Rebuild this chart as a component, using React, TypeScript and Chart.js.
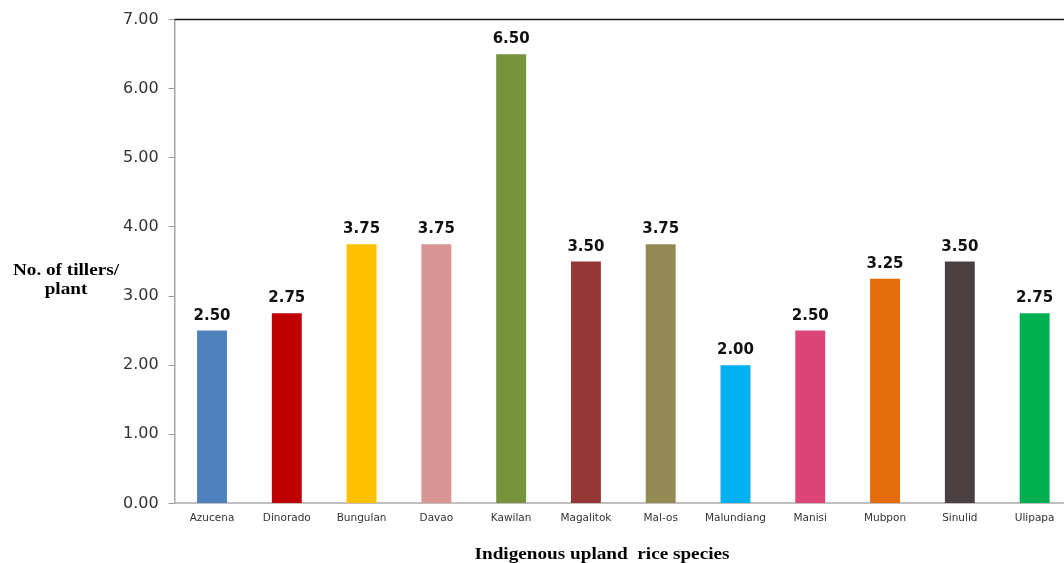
import React, { useEffect, useRef } from "react";
import { Chart, registerables } from "chart.js";

Chart.register(...registerables);

const categories = [
  "Azucena", "Dinorado", "Bungulan", "Davao", "Kawilan", "Magalitok",
  "Mal-os", "Malundiang", "Manisi", "Mubpon", "Sinulid", "Ulipapa",
];
const tillers = [2.5, 2.75, 3.75, 3.75, 6.5, 3.5, 3.75, 2.0, 2.5, 3.25, 3.5, 2.75];
const barColors = [
  "#4F81BD", "#C00000", "#FFC000", "#D99594", "#77933C", "#953735",
  "#938953", "#00B0F0", "#DD4477", "#E46C0A", "#4A3F41", "#00B050",
];
const yTitleLines = ["No. of tillers/", "plant"];
const xTitle = "Indigenous upland  rice species";

const overlayPlugin = {
  id: "overlay",
  afterDatasetsDraw(chart: any) {
    const ctx = chart.ctx;
    const area = chart.chartArea;
    ctx.save();
    // top border line
    ctx.strokeStyle = "#1a1a1a";
    ctx.lineWidth = 1.5;
    ctx.beginPath();
    ctx.moveTo(area.left, area.top);
    ctx.lineTo(area.right, area.top);
    ctx.stroke();
    // value labels
    const meta = chart.getDatasetMeta(0);
    ctx.fillStyle = "#111";
    ctx.font = "bold 15px 'DejaVu Sans'";
    ctx.textAlign = "center";
    ctx.textBaseline = "alphabetic";
    meta.data.forEach((bar: any, i: number) => {
      ctx.fillText(tillers[i].toFixed(2), bar.x, bar.y - 11);
    });
    // y title (horizontal)
    ctx.font = "bold 16px 'Liberation Serif'";
    ctx.fillStyle = "#000";
    const drawStretched = (text: string, cx: number, by: number) => {
      ctx.save();
      ctx.translate(cx, by);
      ctx.scale(1.2, 1);
      ctx.textAlign = "center";
      ctx.fillText(text, 0, 0);
      ctx.restore();
    };
    drawStretched(yTitleLines[0], 66, 275);
    drawStretched(yTitleLines[1], 66, 294);
    // x title
    drawStretched(xTitle, 602, 559);
    ctx.restore();
  },
};

export default function App() {
  const ref = useRef<HTMLCanvasElement>(null);
  useEffect(() => {
    if (!ref.current) return;
    const chart = new Chart(ref.current, {
      type: "bar",
      data: {
        labels: categories,
        datasets: [
          {
            data: tillers,
            backgroundColor: barColors,
            barPercentage: 0.8,
            categoryPercentage: 0.5,
          },
        ],
      },
      options: {
        animation: false,
        responsive: false,
        devicePixelRatio: 1,
        layout: { padding: { left: 113, top: 13, right: 0, bottom: 29 } },
        plugins: { legend: { display: false }, tooltip: { enabled: false } },
        scales: {
          x: {
            grid: { display: false, drawTicks: false },
            border: { display: true, color: "#BFBFBF", width: 2 },
            ticks: {
              font: { family: "DejaVu Sans", size: 10.5 },
              color: "#333",
              padding: 9,
              maxRotation: 0,
              autoSkip: false,
            },
          },
          y: {
            min: 0,
            max: 7,
            grid: {
              drawOnChartArea: false,
              drawTicks: true,
              tickLength: 6,
              color: "#999",
            },
            border: { display: true, color: "#A6A6A6", width: 1.5 },
            ticks: {
              stepSize: 1,
              font: { family: "DejaVu Sans", size: 16 },
              color: "#333",
              padding: 10,
              callback: (v: any) => Number(v).toFixed(2),
            },
          },
        },
      },
      plugins: [overlayPlugin],
    });
    return () => chart.destroy();
  }, []);
  return (
    <div
      style={{
        position: "fixed",
        left: 0,
        top: 0,
        width: 1064,
        height: 563,
        overflow: "hidden",
        background: "#fff",
      }}
    >
      <canvas ref={ref} width={1072} height={563} style={{ display: "block" }} />
    </div>
  );
}
